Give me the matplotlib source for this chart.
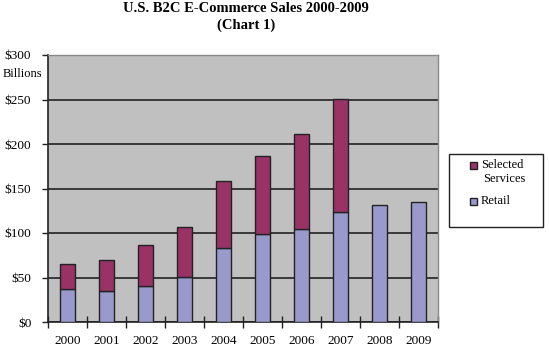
import matplotlib
matplotlib.use("Agg")
import matplotlib.pyplot as plt
import matplotlib.patches as mpatches
import numpy as np

years = ["2000", "2001", "2002", "2003", "2004", "2005", "2006", "2007", "2008", "2009"]
retail = [37, 35, 40, 51, 83, 99, 104, 124, 132, 135]
totals = [65, 70, 86, 107, 158, 186, 211, 251, 0, 0]
services = [t - r if t > 0 else 0 for t, r in zip(totals, retail)]
yticks = [0, 50, 100, 150, 200, 250, 300]
ytick_labels = ["$0", "$50", "$100", "$150", "$200", "$250", "$300"]

plt.rcParams['font.family'] = ['Liberation Serif', 'DejaVu Serif']

W, H = 549, 350
fig = plt.figure(figsize=(W / 100, H / 100), dpi=100)
fig.patch.set_facecolor("white")
ax = fig.add_axes([48 / W, (H - 322) / H, 390 / W, 267 / H])
ax.set_facecolor("#C0C0C0")

x = np.arange(len(years))
bw = 0.4
retail_color = "#9999CC"
serv_color = "#993366"
b1 = ax.bar(x, retail, bw, color=retail_color, edgecolor="#222222", linewidth=1.0, zorder=3, label="Retail")
svals = np.array(services, dtype=float)
mask = svals > 0
b2 = ax.bar(x[mask], svals[mask], bw, bottom=np.array(retail)[mask], color=serv_color,
            edgecolor="#222222", linewidth=1.0, zorder=3, label="Selected\nServices")

ax.set_xlim(-0.5, len(years) - 0.5)
ax.set_ylim(0, 300)
ax.set_yticks(yticks)
ax.set_yticklabels(ytick_labels, fontsize=9.5)
ax.yaxis.grid(True, color="#222222", linewidth=1.2, zorder=1)
ax.set_axisbelow(True)

ax.set_xticks(np.arange(-0.5, len(years), 1.0))
ax.set_xticklabels([])
ax.set_xticks(x, minor=True)
ax.set_xticklabels(years, minor=True, fontsize=9.5)
ax.tick_params(axis="x", which="major", direction="inout", length=8, width=1, color="#222222")
ax.tick_params(axis="x", which="minor", length=0, pad=9)
ax.tick_params(axis="y", direction="out", length=4, width=1, color="#222222", pad=8)

for side in ["left", "bottom"]:
    ax.spines[side].set_color("#222222")
    ax.spines[side].set_linewidth(1.2)
for side in ["top", "right"]:
    ax.spines[side].set_color("#888888")
    ax.spines[side].set_linewidth(1.0)

fig.text(42 / W, 1 - 74 / H, "Billions", ha="right", va="center", fontsize=9)

fig.text(246 / W, 1 - 8 / H, "U.S. B2C E-Commerce Sales 2000-2009", ha="center", va="center",
         fontsize=10.5, fontweight="bold")
fig.text(246 / W, 1 - 25 / H, "(Chart 1)", ha="center", va="center", fontsize=10.5, fontweight="bold")

# legend drawn manually in figure pixel coordinates
def px(xp, yp):
    return xp / W, 1 - yp / H

lx0, ly0, lx1, ly1 = 449, 154, 543, 227
frame = mpatches.Rectangle(px(lx0, ly1), (lx1 - lx0) / W, (ly1 - ly0) / H,
                           transform=fig.transFigure, facecolor="white",
                           edgecolor="#222222", linewidth=1.0)
fig.add_artist(frame)
for (ycen, col) in [(165, serv_color), (201, retail_color)]:
    sq = mpatches.Rectangle(px(470, ycen + 3.5), 7 / W, 7 / H, transform=fig.transFigure,
                            facecolor=col, edgecolor="#222222", linewidth=1.0)
    fig.add_artist(sq)
fig.text(481 / W, 1 - 165 / H, "Selected", ha="left", va="center", fontsize=9)
fig.text(483 / W, 1 - 179 / H, "Services", ha="left", va="center", fontsize=9)
fig.text(481 / W, 1 - 201 / H, "Retail", ha="left", va="center", fontsize=9)

fig.savefig("out.png", dpi=100)
